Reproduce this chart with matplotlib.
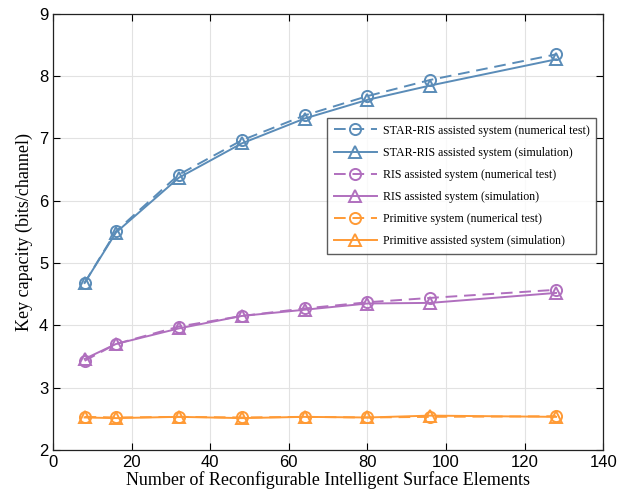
import matplotlib
matplotlib.use("Agg")
import matplotlib.pyplot as plt

x = [8, 16, 32, 48, 64, 80, 96, 128]
star_num = [4.68, 5.51, 6.42, 6.97, 7.37, 7.68, 7.94, 8.35]
star_sim = [4.68, 5.49, 6.37, 6.92, 7.32, 7.62, 7.85, 8.27]
ris_num = [3.43, 3.70, 3.98, 4.15, 4.27, 4.37, 4.44, 4.57]
ris_sim = [3.46, 3.70, 3.95, 4.15, 4.25, 4.35, 4.36, 4.52]
prim_num = [2.53, 2.52, 2.53, 2.52, 2.53, 2.52, 2.53, 2.54]
prim_sim = [2.52, 2.51, 2.53, 2.51, 2.53, 2.52, 2.55, 2.53]

labels = [
    "STAR-RIS assisted system (numerical test)",
    "STAR-RIS assisted system (simulation)",
    "RIS assisted system (numerical test)",
    "RIS assisted system (simulation)",
    "Primitive system (numerical test)",
    "Primitive assisted system (simulation)",
]
colors = ["#5a8cb8", "#b06fbe", "#ff9a35"]

plt.rcParams['font.family'] = ['Liberation Serif', 'DejaVu Serif']

fig = plt.figure(figsize=(6.18, 4.96), dpi=100)
ax = fig.add_axes([0.086, 0.093, 0.890, 0.879])

series = [(star_num, star_sim), (ris_num, ris_sim), (prim_num, prim_sim)]
for i, (num, sim) in enumerate(series):
    c = colors[i]
    ax.plot(x, num, linestyle=(0, (6, 3.5)), color=c, lw=1.4, marker='o', ms=8,
            mfc='none', mew=1.4, label=labels[2 * i])
    ax.plot(x, sim, linestyle='-', color=c, lw=1.4, marker='^', ms=8,
            mfc='none', mew=1.4, label=labels[2 * i + 1])

ax.set_xlim(0, 140)
ax.set_ylim(2, 9)
ax.set_xticks(range(0, 141, 20))
ax.set_yticks(range(2, 10))
ax.grid(True, color='#e2e2e2', lw=0.8)
ax.set_axisbelow(True)
ax.tick_params(direction='in', top=True, right=True, labelsize=12, length=5)
for lab in ax.get_xticklabels() + ax.get_yticklabels():
    lab.set_family(['Liberation Sans', 'DejaVu Sans'])
for s in ax.spines.values():
    s.set_linewidth(0.9)
    s.set_color('#222222')

ax.set_xlabel("Number of Reconfigurable Intelligent Surface Elements", fontsize=13, labelpad=1)
ax.set_ylabel("Key capacity (bits/channel)", fontsize=13, labelpad=4)

leg = ax.legend(loc='upper left', bbox_to_anchor=(0.498, 0.761), fontsize=8.6,
                frameon=True, fancybox=False, edgecolor='#333333',
                handlelength=3.6, handletextpad=0.5, labelspacing=0.85,
                borderpad=0.55, borderaxespad=0)
leg.get_frame().set_linewidth(1.0)

fig.savefig("out.png", dpi=100)
